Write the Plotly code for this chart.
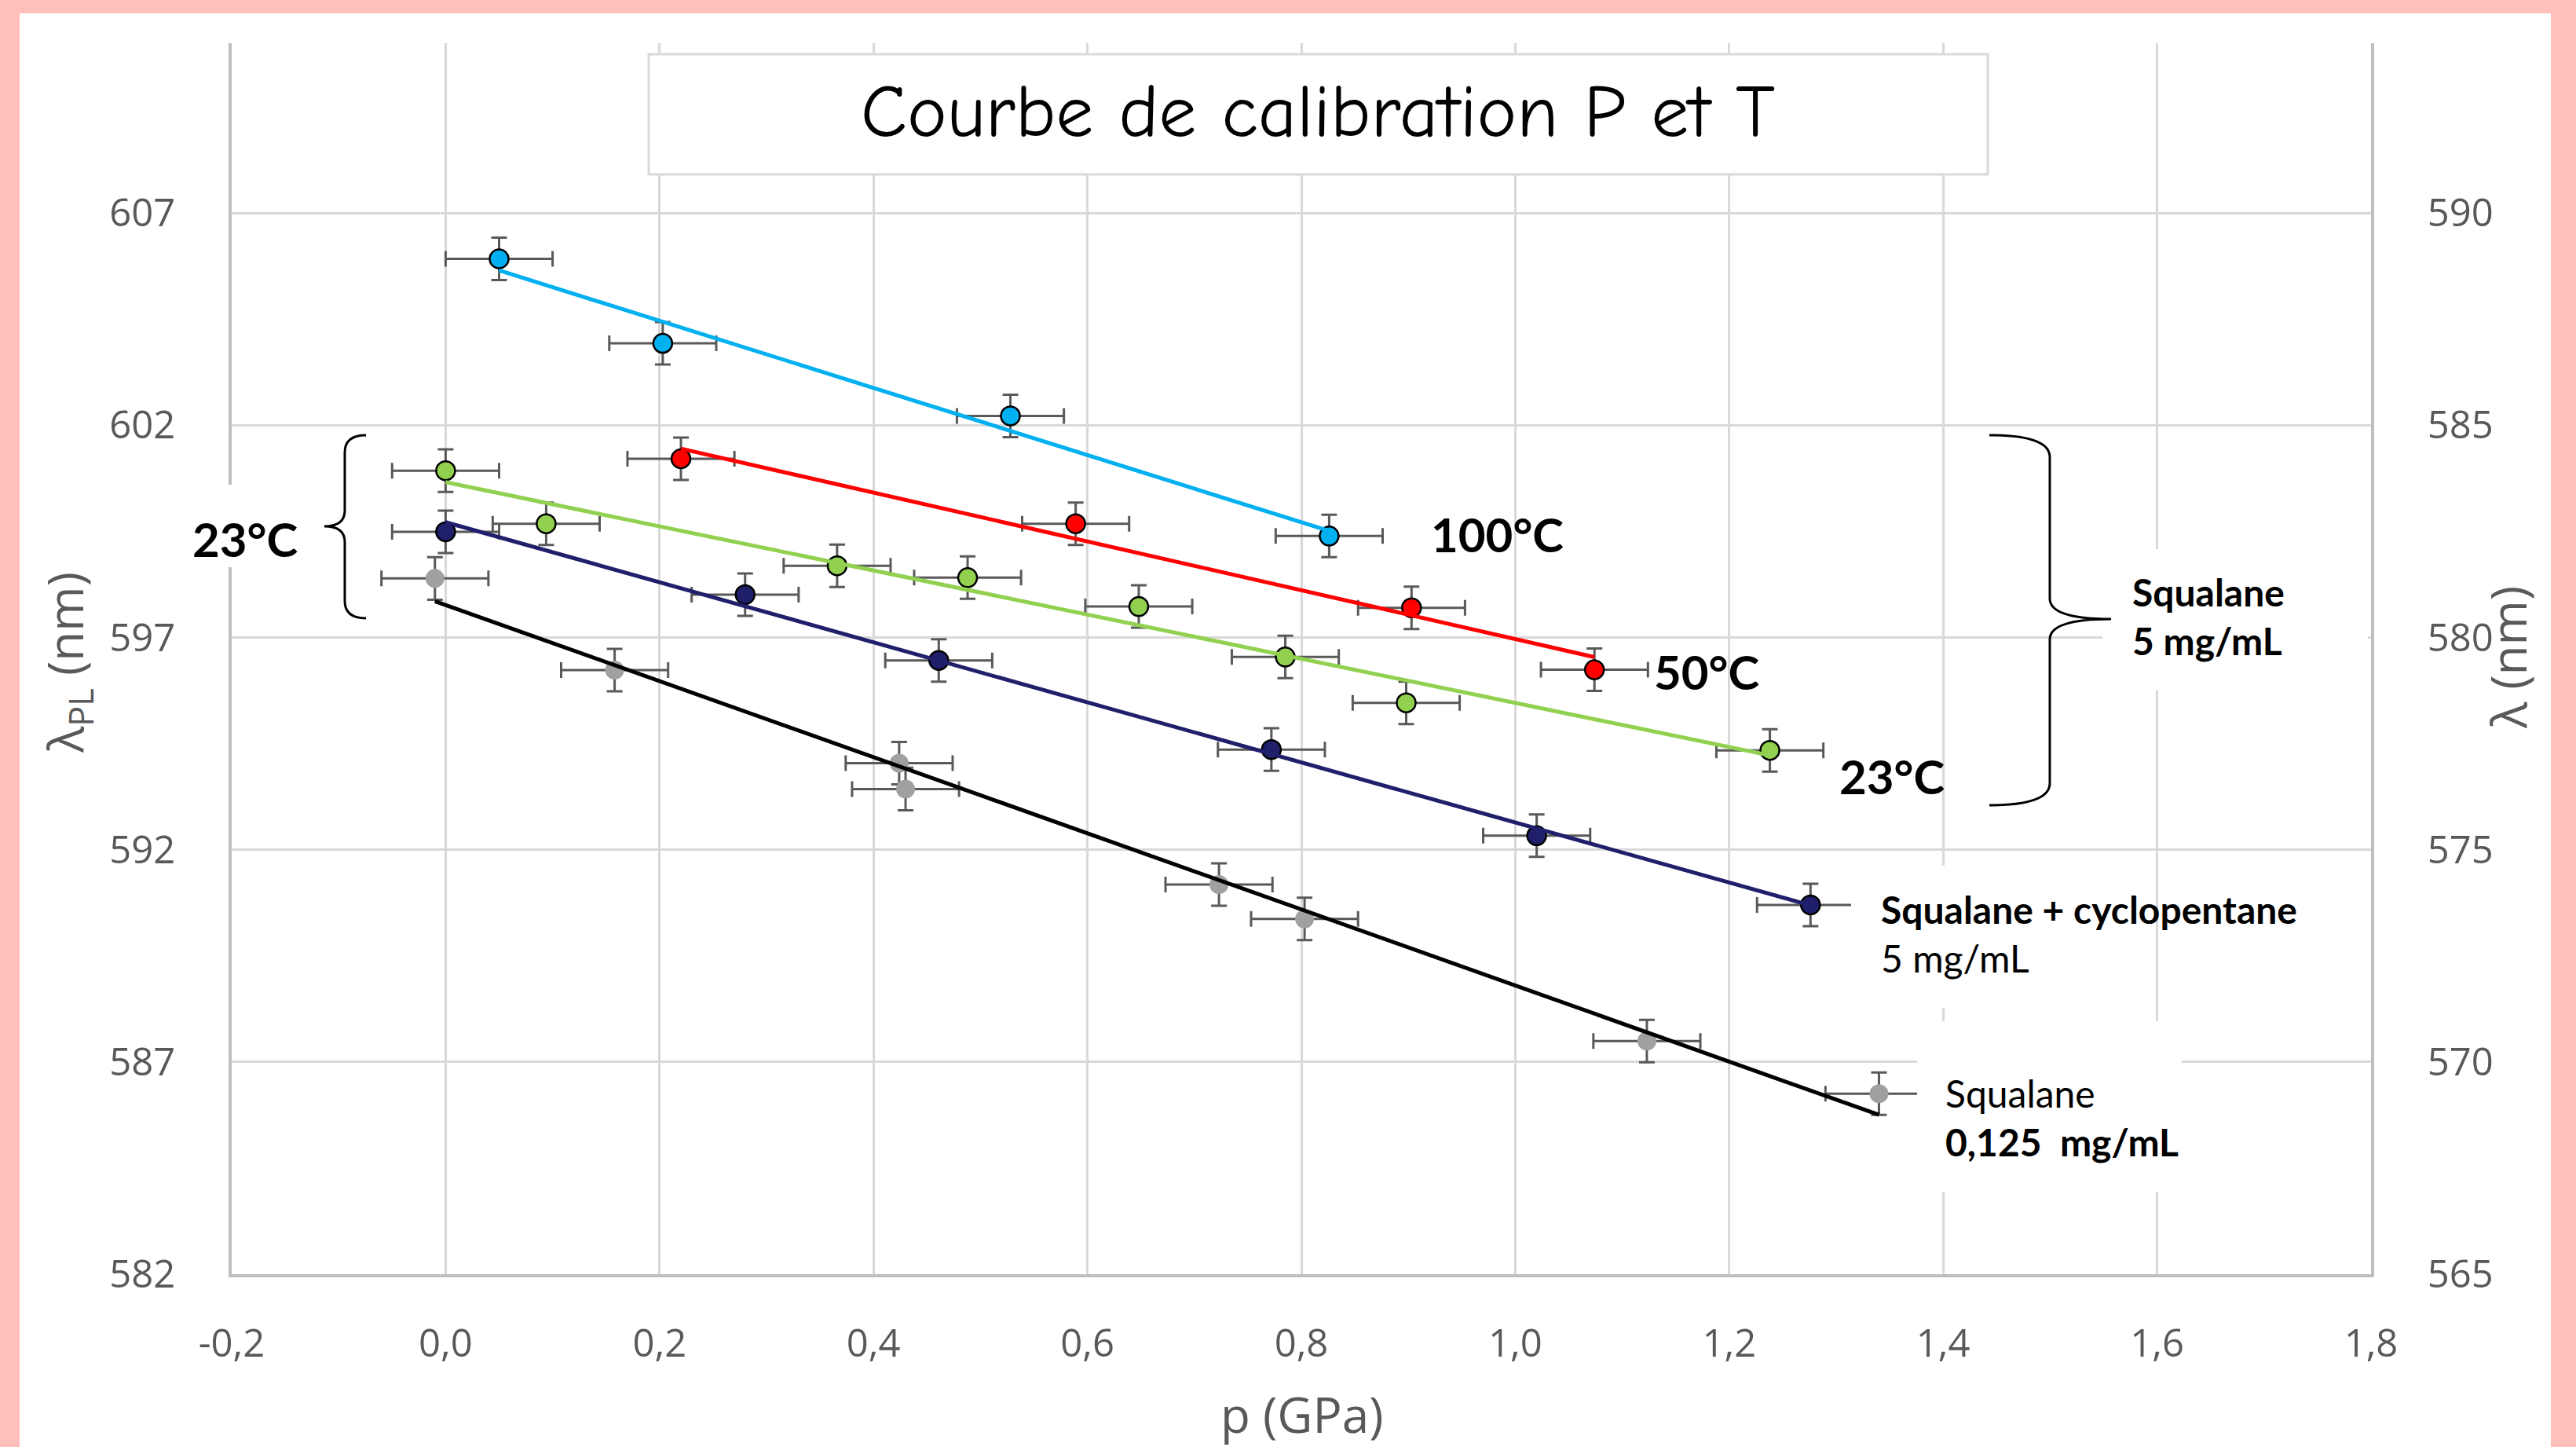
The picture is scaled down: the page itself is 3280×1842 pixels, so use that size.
import numpy as np
import plotly.graph_objects as go

# ---------------- data ----------------
p_100 = [0.050, 0.203, 0.528, 0.826]
lam_100 = [605.92, 603.93, 602.22, 599.39]

p_50 = [0.220, 0.589, 0.903, 1.074]
lam_50 = [601.21, 599.68, 597.70, 596.24]

p_23 = [0.0, 0.094, 0.366, 0.488, 0.648, 0.785, 0.898, 1.238]
lam_23 = [600.93, 599.68, 598.69, 598.41, 597.73, 596.54, 595.46, 594.34]

p_cp = [0.0, 0.280, 0.461, 0.772, 1.020, 1.276]
lam_cp = [599.49, 598.01, 596.46, 594.36, 592.33, 590.70]

p_dil = [-0.010, 0.158, 0.424, 0.430, 0.723, 0.803, 1.123, 1.340]
lam_dil = [598.39, 596.23, 594.04, 593.43, 591.18, 590.37, 587.49, 586.25]

err_p = 0.05
err_lam = 0.5

x_ticks = [-0.2, 0.0, 0.2, 0.4, 0.6, 0.8, 1.0, 1.2, 1.4, 1.6, 1.8]
x_ticktext = ["-0,2", "0,0", "0,2", "0,4", "0,6", "0,8", "1,0", "1,2", "1,4", "1,6", "1,8"]
y_ticks = [582, 587, 592, 597, 602, 607]
y2_ticks = [565, 570, 575, 580, 585, 590]

# ---------------- layout geometry ----------------
W, H = 3280, 1842
L, R, T, B = 295, 3019, 55, 1622


def px(X):
    return (X - L) / (R - L)


def py(Y):
    return (B - Y) / (B - T)


def path(points):
    out = []
    for cmd, pts in points:
        s = cmd
        for (a, b) in pts:
            s += " %.5f,%.5f" % (px(a), py(b))
        out.append(s)
    return " ".join(out)


GRAY_TXT = "#595959"
ERR = dict(type="constant", color="#595959", thickness=3, width=10)

fig = go.Figure()

series = [
    (p_100, lam_100, "#00B0F0", "#00B0F0", 2.5),
    (p_50, lam_50, "#FF0000", "#FF0000", 2.5),
    (p_23, lam_23, "#92D050", "#92D050", 2.5),
    (p_cp, lam_cp, "#1F1F6B", "#1F1F6B", 2.5),
    (p_dil, lam_dil, "#A0A0A0", "#000000", 0),
]

for p, lam, mcol, lcol, mlw in series:
    fig.add_trace(go.Scatter(
        x=p, y=lam, mode="markers",
        marker=dict(size=24, color=mcol, line=dict(color="black", width=mlw)),
        error_x=dict(value=err_p, **ERR),
        error_y=dict(value=err_lam, **ERR),
        showlegend=False, hoverinfo="x+y"))

for p, lam, mcol, lcol, mlw in series:
    coef = np.polyfit(p, lam, 1)
    xf = [min(p), max(p)]
    yf = list(np.polyval(coef, xf))
    fig.add_trace(go.Scatter(
        x=xf, y=yf, mode="lines", line=dict(color=lcol, width=5),
        showlegend=False, hoverinfo="skip"))

# empty trace so that the secondary (right) axis is drawn with its labels
fig.add_trace(go.Scatter(x=[None], y=[None], yaxis="y2", mode="markers",
                         showlegend=False, hoverinfo="skip"))

tickfont = dict(family="Open Sans, sans-serif", size=49, color=GRAY_TXT)

fig.update_layout(
    width=W, height=H,
    margin=dict(l=L, r=W - R, t=T, b=H - B, pad=0),
    paper_bgcolor="white", plot_bgcolor="white",
    separators=", ",
    showlegend=False,
    xaxis=dict(range=[-0.2, 1.8], tickvals=x_ticks, ticktext=x_ticktext,
               showgrid=True, gridcolor="#D9D9D9", gridwidth=3,
               showline=True, linecolor="#BFBFBF", linewidth=4,
               zeroline=False, ticks="", tickfont=tickfont,
               ticklabelstandoff=42),
    yaxis=dict(range=[582, 611], tickvals=y_ticks,
               showgrid=True, gridcolor="#D9D9D9", gridwidth=3,
               showline=True, linecolor="#BFBFBF", linewidth=4,
               zeroline=False, ticks="", tickfont=tickfont,
               ticklabelstandoff=58),
    yaxis2=dict(range=[565, 594], tickvals=y2_ticks, overlaying="y",
                side="right", showgrid=False, anchor="x",
                showline=True, linecolor="#BFBFBF", linewidth=4,
                zeroline=False, ticks="", tickfont=tickfont,
                showticklabels=True, ticklabelstandoff=58),
)

shapes = []
pink = "#FFBFBA"
# pink page border
shapes.append(dict(type="rect", xref="paper", yref="paper", layer="below",
                   x0=px(0), x1=px(25), y0=py(H), y1=py(0),
                   fillcolor=pink, line=dict(width=0)))
shapes.append(dict(type="rect", xref="paper", yref="paper", layer="below",
                   x0=px(0), x1=px(W), y0=py(17), y1=py(0),
                   fillcolor=pink, line=dict(width=0)))
shapes.append(dict(type="rect", xref="paper", yref="paper", layer="below",
                   x0=px(3248), x1=px(W), y0=py(H), y1=py(0),
                   fillcolor=pink, line=dict(width=0)))
# white text boxes hiding grid
for (x0, y0, x1, y1) in [(238, 617, 392, 722), (2677, 699, 3015, 879),
                         (2357, 1102, 2600, 1283), (2441, 1300, 2778, 1517)]:
    shapes.append(dict(type="rect", xref="paper", yref="paper", layer="above",
                       x0=px(x0), x1=px(x1), y0=py(y1), y1=py(y0),
                       fillcolor="white", line=dict(width=0)))
# title box
shapes.append(dict(type="rect", xref="paper", yref="paper", layer="above",
                   x0=px(826), x1=px(2531), y0=py(222), y1=py(69),
                   fillcolor="white", line=dict(color="#D9D9D9", width=3)))
# left brace
shapes.append(dict(type="path", xref="paper", yref="paper", layer="above",
                   path=path([("M", [(466, 554)]), ("Q", [(439, 554), (439, 576)]),
                              ("L", [(439, 650)]), ("Q", [(439, 670), (413, 670)]),
                              ("Q", [(439, 670), (439, 690)]), ("L", [(439, 765)]),
                              ("Q", [(439, 787), (466, 787)])]),
                   line=dict(color="black", width=3)))
# right brace
shapes.append(dict(type="path", xref="paper", yref="paper", layer="above",
                   path=path([("M", [(2533, 554)]), ("Q", [(2610, 554), (2610, 582)]),
                              ("L", [(2610, 762)]), ("Q", [(2610, 788), (2688, 788)]),
                              ("Q", [(2610, 788), (2610, 814)]), ("L", [(2610, 997)]),
                              ("Q", [(2610, 1025), (2533, 1025)])]),
                   line=dict(color="black", width=3)))
fig.update_layout(shapes=shapes)

ann = []


def add(text, X, Y, size, xanchor="center", align="center", angle=0,
        family="Lato, sans-serif", color="black"):
    ann.append(dict(text=text, x=px(X), y=py(Y), xref="paper", yref="paper",
                    xanchor=xanchor, yanchor="middle", align=align,
                    textangle=angle, showarrow=False,
                    font=dict(family=family, size=size, color=color)))


add("Courbe de calibration P et T", 1678, 143, 96,
    family="Comic Sans MS, Comic Neue, Lato, sans-serif")
add("<b>23°C</b>", 312, 686, 60)
add("<b>100°C</b>", 1906, 680, 60)
add("<b>50°C</b>", 2173, 855, 60)
add("<b>23°C</b>", 2409, 988, 60)
add("<b>Squalane<br>5 mg/mL</b>", 2713, 784, 48, xanchor="left", align="left")
add("<b>Squalane + cyclopentane</b><br>5 mg/mL", 2393, 1188, 48,
    xanchor="left", align="left")
add("Squalane<br><b>0,125\u00a0 mg/mL</b>", 2475, 1422, 48,
    xanchor="left", align="left")
add("p (GPa)", 1657, 1800, 62, family="Open Sans, sans-serif", color=GRAY_TXT)
add("λ<sub>PL</sub> (nm)", 86, 844, 62, angle=-90,
    family="Open Sans, sans-serif", color=GRAY_TXT)
add("λ (nm)", 3193, 837, 62, angle=-90,
    family="Open Sans, sans-serif", color=GRAY_TXT)
fig.update_layout(annotations=ann)

fig.write_html("out.html", config={"displayModeBar": False},
               post_script="document.body.style.margin='0';document.body.style.overflow='hidden';")
